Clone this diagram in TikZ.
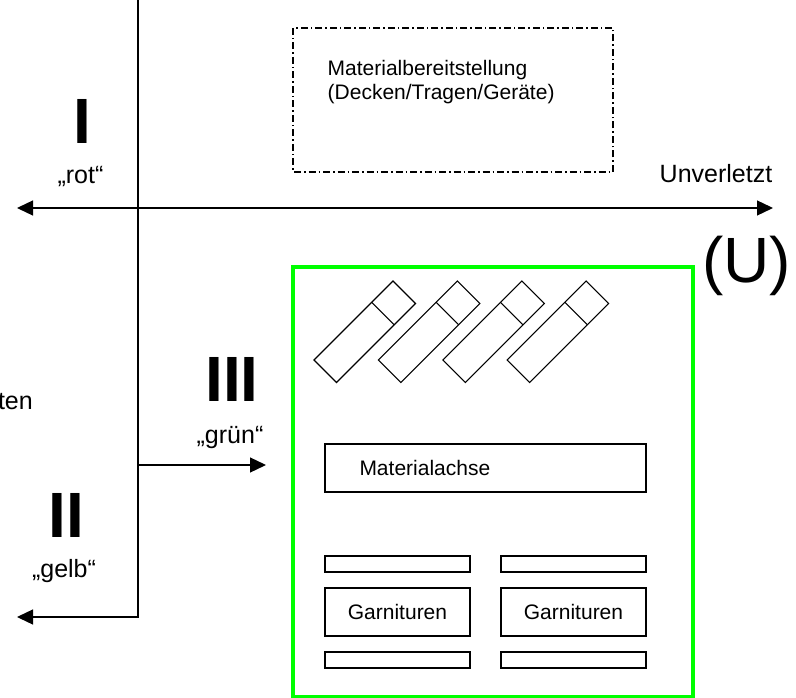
\documentclass[tikz,border=0pt]{standalone}
\usepackage{fontspec}
\setmainfont{Liberation Sans}
\usetikzlibrary{arrows.meta}
\newcommand{\fsbig}{\fontsize{64}{70}\selectfont}
\newcommand{\fslab}{\fontsize{25}{30}\selectfont}
\newcommand{\fsbox}{\fontsize{21}{24}\selectfont}
\tikzset{
  ln/.style={line width=1.3pt, draw=black},
  arr/.style={ln, -{Triangle[length=16pt,width=15pt]}},
  darr/.style={ln, {Triangle[length=16pt,width=15pt]}-{Triangle[length=16pt,width=15pt]}},
  big/.style={font=\fsbig, inner sep=0pt, anchor=base},
  roman/.style={font=\fsbig\bfseries, inner sep=0pt, anchor=base},
  lab/.style={font=\fslab, inner sep=0pt, anchor=base},
  boxtxt/.style={font=\fsbox, inner sep=0pt},
  wbox/.style={draw=black, line width=1.3pt, minimum width=145pt, minimum height=48pt, font=\fsbox, inner sep=0pt},
  bar/.style={draw=black, line width=1.3pt, minimum width=145pt, minimum height=16pt, inner sep=0pt},
  dashdot/.style={draw=black, line width=1.2pt, dash pattern=on 7pt off 3pt on 1.5pt off 3pt},
  stretcher/.style={draw=black, line width=1.1pt, line join=miter},
  greenbox/.style={draw={rgb,255:red,0;green,255;blue,0}, line width=4pt}
}
\begin{document}
\begin{tikzpicture}[x=1pt,y=-1pt]
\useasboundingbox (0,0) rectangle (796,698);
% coordinates of the axes
\coordinate (vtop) at (138,0);
\coordinate (vbot) at (138,617);
\coordinate (gelbtip) at (17,617);
\coordinate (axL) at (17,208);
\coordinate (axR) at (773,208);
\coordinate (gruenstart) at (138,465);
\coordinate (gruentip) at (266,465);
% axes
\draw[darr] (axL) -- (axR);
\draw[arr] (vtop) -- (vbot) -- (gelbtip);
\draw[arr] (gruenstart) -- (gruentip);
% labels
\node[roman] (one) at (82,144) {I};
\node[lab] (rot) at (80.5,184) {„rot“};
\node[roman] (two) at (66,537) {II};
\node[lab] (gelb) at (64,577) {„gelb“};
\node[roman] (three) at (232,401) {III};
\node[lab] (gruen) at (230,443) {„grün“};
\node[lab] (unv) at (716,183) {Unverletzt};
\node[big] (U) at (746.5,282) {(U)};
\node[lab, anchor=base east] (ten) at (33,409) {ten};
% material provision
\draw[dashdot] (293,28) rectangle (613,172);
\node[boxtxt, anchor=north west, align=left] (matbereit) at (327.5,60.5)
  {Materialbereitstellung\\(Decken/Tragen/Geräte)};
% green area
\draw[greenbox] (293,267) rectangle (693,697);
% stretchers
\foreach \i in {0,1,2,3}{
  \begin{scope}[shift={(64.4*\i,0)}]
    \draw[stretcher] (393,281) -- ++(22.5,22.5) -- ++(-79,79) -- ++(-22.5,-22.5) -- cycle;
    \draw[stretcher] (371.7,302.3) -- ++(22.5,22.5);
  \end{scope}
}
% Materialachse
\node[draw=black, line width=1.3pt, minimum width=321pt, minimum height=48pt,
      text width=252pt, inner xsep=34.5pt, inner ysep=0pt, align=left, font=\fsbox]
      (achse) at (485.5,468) {Materialachse};
% Garnituren
\node[bar] (b1) at (397.5,564) {};
\node[bar] (b2) at (573.5,564) {};
\node[wbox] (g1) at (397.5,612) {Garnituren};
\node[wbox] (g2) at (573.5,612) {Garnituren};
\node[bar] (b3) at (397.5,660) {};
\node[bar] (b4) at (573.5,660) {};
\end{tikzpicture}
\end{document}
